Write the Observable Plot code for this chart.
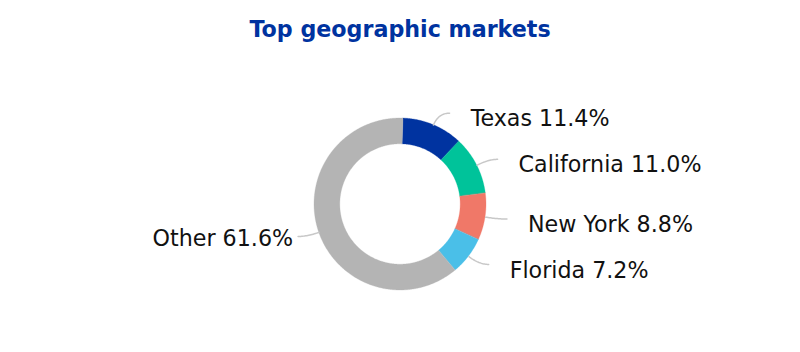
<!DOCTYPE html>
<html>
<head>
<meta charset="utf-8">
<script src="https://cdn.jsdelivr.net/npm/d3@7"></script>
<script src="https://cdn.jsdelivr.net/npm/@observablehq/plot@0.6"></script>
<style>
  html, body { margin: 0; padding: 0; background: #fff; }
  #title {
    box-sizing: border-box; height: 50px; padding-top: 16px;
    font: bold 22.2px "DejaVu Sans", sans-serif; line-height: normal;
    color: #0033A0; text-align: center; width: 800px;
  }
  #chart svg { display: block; }
</style>
</head>
<body>
<div id="title">Top geographic markets</div>
<div id="chart"></div>
<script>
// ---- data ----
const categories = ["Texas", "California", "New York", "Florida", "Other"];
const shares = [11.4, 11.0, 8.8, 7.2, 61.6];
const colors = ["#0033A0", "#00C39A", "#F07868", "#4ABFE8", "#B4B4B4"];

// ---- layout ----
const W = 800, H = 302;
const R = 86;                 // px per unit (outer radius = 1)
const inner = 0.70;           // inner radius in units
const cx = 400, cy = 154;     // donut centre in svg px
const start = 2 * Math.PI / 180;

const pie = d3.pie().sort(null).startAngle(start).endAngle(start + 2 * Math.PI)(shares);

// ring segments sampled in data units (y up)
const ring = [];
pie.forEach((p, i) => {
  const n = Math.max(4, Math.ceil((p.endAngle - p.startAngle) / 0.01));
  for (let k = 0; k <= n; k++) {
    const a = p.startAngle + (p.endAngle - p.startAngle) * k / n;
    ring.push({cat: categories[i], xi: inner * Math.sin(a), yi: inner * Math.cos(a),
               xo: Math.sin(a), yo: Math.cos(a)});
  }
});

// leader lines and labels
const leaders = [], labels = [];
pie.forEach((p, i) => {
  const a = (p.startAngle + p.endAngle) / 2;
  const s = [Math.sin(a), Math.cos(a)];
  const c = [1.15 * s[0], 1.15 * s[1]];
  const e = [Math.sign(s[0]) * (0.15 + 1.1 * Math.abs(s[0])), 1.15 * s[1]];
  for (let k = 0; k <= 20; k++) {
    const t = k / 20, u = 1 - t;
    leaders.push({cat: categories[i],
      x: u * u * s[0] + 2 * u * t * c[0] + t * t * e[0],
      y: u * u * s[1] + 2 * u * t * c[1] + t * t * e[1]});
  }
  labels.push({cat: categories[i], x: e[0], y: e[1],
    text: `${categories[i]} ${shares[i].toFixed(1)}%`, right: e[0] >= 0});
});

const chart = Plot.plot({
  width: W, height: H,
  margin: 0,
  style: {fontFamily: "DejaVu Sans, sans-serif", background: "#fff"},
  x: {domain: [-cx / R, (W - cx) / R], range: [0, W], axis: null},
  y: {domain: [-(H - cy) / R, cy / R], range: [H, 0], axis: null},
  color: {domain: categories, range: colors},
  marks: [
    Plot.area(ring, {x1: "xi", y1: "yi", x2: "xo", y2: "yo", z: "cat", fill: "cat",
                     stroke: "cat", strokeWidth: 0.3}),
    Plot.line(leaders, {x: "x", y: "y", z: "cat", stroke: "#c8c8c8", strokeWidth: 1.5}),
    Plot.text(labels.filter(d => d.right), {x: "x", y: "y", text: "text", textAnchor: "start",
      dx: 21, dy: 6, fontSize: 22.2, fill: "#111"}),
    Plot.text(labels.filter(d => !d.right), {x: "x", y: "y", text: "text", textAnchor: "end",
      dx: -5, dy: 2, fontSize: 22.2, fill: "#111"})
  ]
});
document.getElementById("chart").appendChild(chart);
</script>
</body>
</html>
